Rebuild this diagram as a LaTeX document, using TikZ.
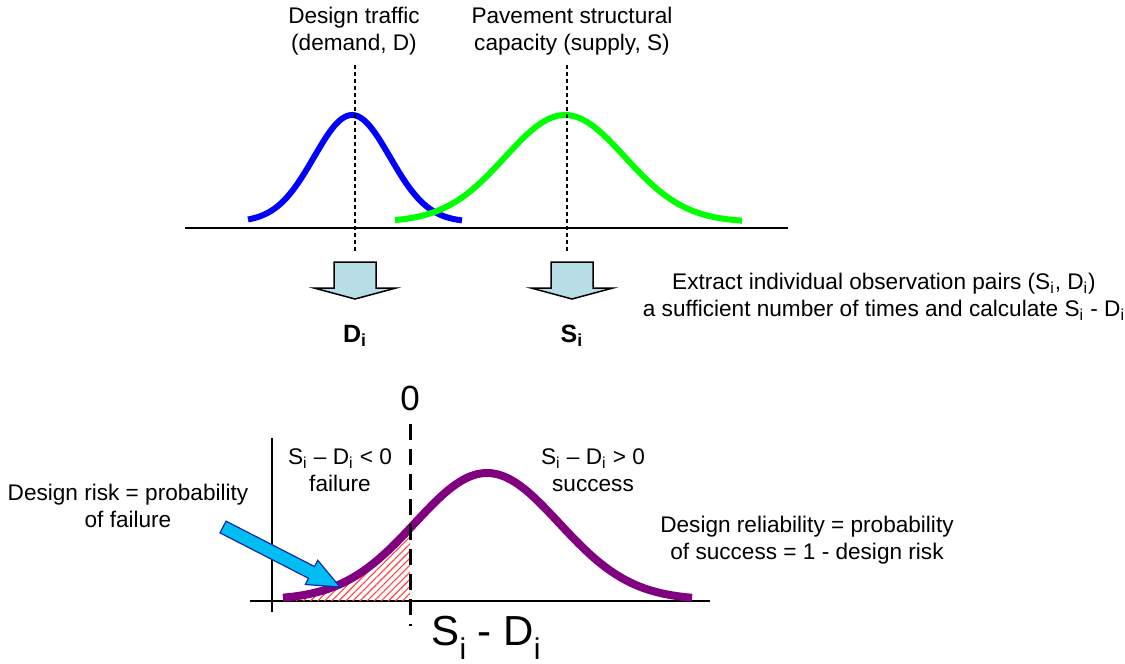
\documentclass[tikz,border=0pt]{standalone}
\usepackage{fontspec}
\setmainfont{Liberation Sans}
\usetikzlibrary{calc, patterns.meta}
\definecolor{demandblue}{RGB}{0,0,255}
\definecolor{supplygreen}{RGB}{0,255,0}
\definecolor{marginpurple}{RGB}{128,0,128}
\definecolor{arrowfill}{RGB}{183,222,230}
\definecolor{pointerfill}{RGB}{0,190,242}
\definecolor{pointerline}{RGB}{20,40,170}
\newcommand{\subi}{\textsubscript{i}}
\newcommand{\bigsubi}{\raisebox{-0.32em}{\fontsize{15}{15}\selectfont i}}

\begin{document}
\begin{tikzpicture}[
  x=0.5pt, y=-0.5pt,
  lbl/.style={align=center, font=\fontsize{11.3}{13.5}\selectfont, inner sep=0pt},
  obslbl/.style={font=\bfseries\fontsize{12.5}{15}\selectfont, inner sep=0pt},
  axis/.style={line width=0.75pt},
  guide/.style={line width=0.9pt, dash pattern=on 2pt off 1.5pt},
  zeroline/.style={line width=1.5pt, dash pattern=on 8pt off 4.5pt},
  curve/.style={line width=3pt},
  blockarrow/.style={draw, line width=0.75pt, fill=arrowfill, line join=miter},
  pointer/.style={draw=pointerline, line width=0.6pt, fill=pointerfill, line join=miter}
]
  \useasboundingbox (0,0) rectangle (1125,664);

  % demand and supply distributions
  \draw[axis] (185,228) -- (788,228);
  \draw[curve, demandblue] plot[smooth, domain=248:462, samples=40] (\x, {222-107*exp(-0.5*((\x-352)/38)^2)});
  \draw[curve, supplygreen] plot[smooth, domain=395:742, samples=50] (\x, {222-107*exp(-0.5*((\x-565)/60)^2)});

  \node[lbl] (trafficlbl) at (354,31) {Design traffic\\(demand, D)};
  \node[lbl] (capacitylbl) at (572,31) {Pavement structural\\capacity (supply, S)};
  \coordinate (dtop) at (355,65);
  \coordinate (dbot) at (355,252);
  \coordinate (stop) at (567,65);
  \coordinate (sbot) at (567,252);
  \draw[guide] (dtop) -- (dbot);
  \draw[guide] (stop) -- (sbot);

  % sampling
  \node[obslbl] (dlbl) at (355,336) {D\subi};
  \node[obslbl] (slbl) at (572,336) {S\subi};
  \coordinate (darrow) at (355,262);
  \coordinate (sarrow) at (572,262);
  \draw[blockarrow] (darrow) ++(-21,0) -- ++(42,0) -- ++(0,26) -- ++(20,0) -- ++(-41,11) -- ++(-41,-11) -- ++(20,0) -- cycle;
  \draw[blockarrow] (sarrow) ++(-21,0) -- ++(42,0) -- ++(0,26) -- ++(20,0) -- ++(-41,11) -- ++(-41,-11) -- ++(20,0) -- cycle;
  \node[lbl] (extractlbl) at (884,297) {Extract individual observation pairs (S\subi, D\subi)\\a sufficient number of times and calculate S\subi{} - D\subi};

  % safety margin distribution
  \draw[axis] (250,601) -- (710,601);
  \draw[axis] (272,438) -- (272,612);
  \fill[pattern={Lines[angle=45, distance=2.5pt, line width=0.55pt]}, pattern color=red!75]
    plot[smooth, domain=283:410, samples=30] (\x, {600-127*exp(-0.5*((\x-487)/72)^2)}) -- (410,601) -- (283,601) -- cycle;
  \draw[curve, line width=4pt, marginpurple] plot[smooth, domain=283:692, samples=60] (\x, {600-127*exp(-0.5*((\x-487)/72)^2)});
  \node[font=\fontsize{17.5}{20}\selectfont, inner sep=0pt] (zerolbl) at (410,398) {0};
  \coordinate (zerotop) at (410,424);
  \coordinate (zerobot) at (410,626);
  \draw[zeroline] (zerotop) -- (zerobot);
  \node[font=\fontsize{21}{25}\selectfont, inner sep=0pt] (marginlbl) at (486,638) {S\bigsubi{} - D\bigsubi};

  \node[lbl] (failurelbl) at (340,470) {S\subi{} – D\subi{} < 0\\failure};
  \node[lbl] (successlbl) at (593,470) {S\subi{} – D\subi{} > 0\\success};
  \node[lbl] (reliabilitylbl) at (807,540) {Design reliability = probability\\of success = 1 - design risk};
  \node[lbl] (risklbl) at (128,506) {Design risk = probability\\of failure};

  % pointer to the failure area
  \coordinate (risktail) at (223,527);
  \coordinate (risktip) at (340,587);
  \coordinate (riskhead) at ($(risktip)!16pt!(risktail)$);
  \draw[pointer] ($(risktail)!3.3pt!90:(risktip)$) -- ($(riskhead)!3.3pt!90:(risktip)$) -- ($(riskhead)!6.8pt!90:(risktip)$) -- (risktip)
    -- ($(riskhead)!6.8pt!-90:(risktip)$) -- ($(riskhead)!3.3pt!-90:(risktip)$) -- ($(risktail)!3.3pt!-90:(risktip)$) -- cycle;
\end{tikzpicture}
\end{document}
